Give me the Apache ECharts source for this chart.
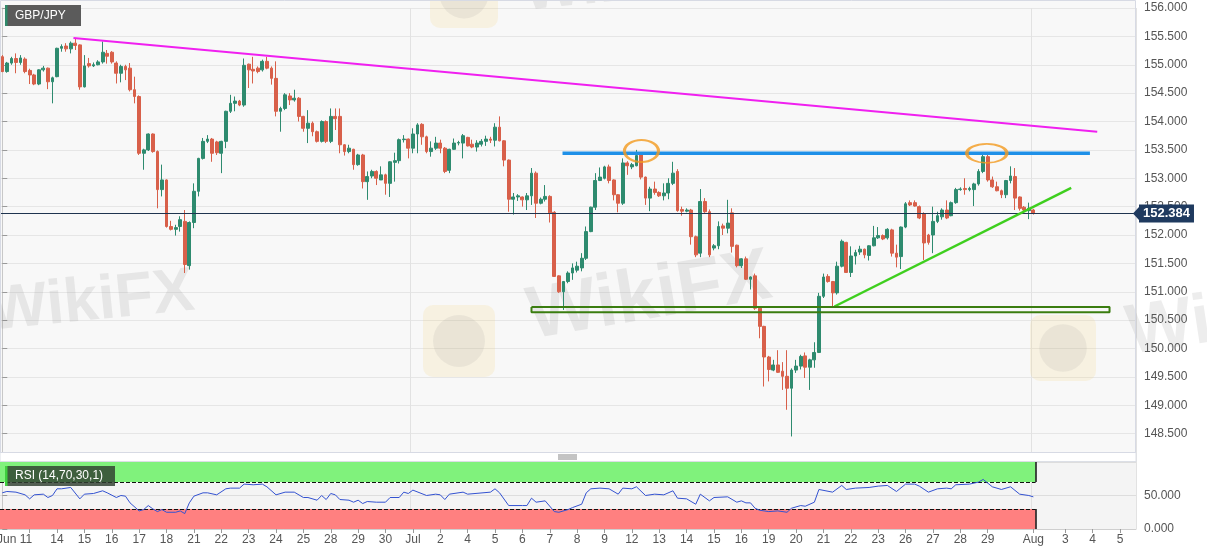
<!DOCTYPE html>
<html>
<head>
<meta charset="utf-8">
<title>GBP/JPY</title>
<script src="https://cdn.jsdelivr.net/npm/echarts@6/dist/echarts.min.js"></script>
<style>
  html, body { margin: 0; padding: 0; background: #fff; }
  #chart { width: 1207px; height: 555px; }
</style>
</head>
<body>
<div id="chart"></div>
<script>
// day labels on the time axis and how many 4h slots each day takes
var dayLabels = ['', 'Jun 11', '14', '15', '16', '17', '18', '21', '22', '23', '24', '25',
  '28', '29', '30', 'Jul', '2', '4', '5', '6', '7', '8', '9', '12', '13', '14', '15', '16',
  '19', '20', '21', '22', '23', '26', '27', '28', '29', '', 'Aug', '3', '4', '5'];
var daySlots = [6, 6, 6, 6, 6, 6, 6, 6, 6, 6, 6, 6, 6, 6, 6, 6, 6, 6, 6, 6, 6, 6, 6, 6, 6, 6,
  6, 6, 6, 6, 6, 6, 6, 6, 6, 6, 6, 4, 7, 6, 6, 4];

// 4h candles: [open, close, low, high]
var candles = [
  [155.14,154.88,154.87,155.17],[154.88,155.03,154.86,155.05],[155.03,155.11,155.00,155.14],[155.11,155.04,154.85,155.20],[155.04,155.12,155.00,155.17],[155.10,154.88,154.85,155.13],
  [154.90,154.82,154.66,154.93],[154.82,154.66,154.64,154.84],[154.66,154.91,154.64,154.92],[154.91,154.94,154.88,154.98],[154.94,154.70,154.57,154.95],[154.70,154.77,154.32,154.79],
  [154.79,155.29,154.78,155.30],[155.29,155.32,155.23,155.36],[155.33,155.28,155.23,155.38],[155.28,155.38,155.20,155.41],[155.38,155.34,155.26,155.47],[155.35,154.61,154.56,155.36],
  [154.61,154.98,154.60,155.17],[155.02,154.98,154.95,155.12],[154.98,155.00,154.96,155.04],[155.00,155.05,154.99,155.08],[155.05,155.22,155.02,155.41],[155.20,155.15,155.02,155.26],
  [155.22,155.05,155.02,155.24],[155.03,154.85,154.67,155.06],[154.85,154.97,154.69,155.00],[154.97,154.91,154.73,155.00],[154.94,154.56,154.53,155.03],[154.56,154.44,154.32,154.79],
  [154.44,153.44,153.41,154.46],[153.44,153.50,153.15,153.52],[153.50,153.78,153.48,153.79],[153.78,153.47,153.45,153.79],[153.47,152.80,152.47,153.49],[152.80,152.97,152.68,153.24],
  [152.97,152.15,152.13,152.98],[152.15,152.10,152.08,152.25],[152.10,152.13,151.99,152.18],[152.15,152.27,152.06,152.33],[152.24,151.48,151.33,152.44],[151.46,152.22,151.39,152.24],
  [152.22,152.77,152.12,152.91],[152.77,153.35,152.68,153.36],[153.35,153.65,153.33,153.71],[153.65,153.69,153.62,153.76],[153.69,153.44,153.29,153.71],[153.64,153.45,153.41,153.66],
  [153.44,153.65,153.09,153.66],[153.65,154.18,153.53,154.19],[154.18,154.32,154.15,154.47],[154.32,154.36,154.18,154.44],[154.36,154.29,154.27,154.38],[154.29,154.99,154.26,155.11],
  [155.01,154.91,154.59,155.02],[154.92,154.89,154.67,155.14],[154.94,154.88,154.85,154.97],[154.91,155.06,154.88,155.09],[155.06,154.94,154.92,155.14],[154.94,154.76,154.65,154.97],
  [154.76,154.18,154.09,155.06],[154.18,154.23,153.82,154.26],[154.23,154.47,154.20,154.50],[154.45,154.38,154.29,154.50],[154.38,154.41,154.35,154.56],[154.41,154.09,154.00,154.43],
  [154.09,153.88,153.82,154.10],[153.88,153.97,153.62,154.20],[153.97,153.82,153.74,154.00],[153.82,153.65,153.63,153.84],[153.65,154.00,153.63,154.02],[154.00,153.65,153.62,154.02],
  [153.65,154.09,153.62,154.23],[154.09,154.05,153.85,154.23],[154.09,153.59,153.44,154.23],[153.59,153.47,153.40,153.60],[153.47,153.53,153.44,153.59],[153.51,153.24,153.15,153.52],
  [153.24,153.41,153.22,153.43],[153.41,152.94,152.82,153.43],[152.94,153.03,152.62,153.12],[153.04,153.12,153.00,153.15],[153.12,153.00,152.88,153.14],[152.97,153.06,152.97,153.21],
  [153.06,152.91,152.71,153.08],[152.91,153.29,152.67,153.30],[153.28,153.31,152.94,153.45],[153.31,153.68,153.26,153.70],[153.68,153.69,153.63,153.76],[153.69,153.53,153.35,153.70],
  [153.53,153.78,153.44,153.88],[153.78,153.94,153.44,153.97],[153.95,153.73,153.59,153.97],[153.73,153.47,153.44,153.75],[153.47,153.53,153.38,153.65],[153.53,153.62,153.50,153.73],
  [153.62,153.53,153.44,153.68],[153.53,153.12,153.09,153.55],[153.14,153.51,153.09,153.52],[153.51,153.62,153.50,153.70],[153.62,153.63,153.58,153.66],[153.62,153.75,153.35,153.78],
  [153.72,153.57,153.56,153.73],[153.60,153.55,153.53,153.68],[153.55,153.62,153.47,153.67],[153.60,153.65,153.56,153.69],[153.65,153.69,153.57,153.75],[153.69,153.67,153.62,153.73],
  [153.67,153.90,153.56,153.97],[153.90,153.66,153.65,154.09],[153.66,153.32,153.21,153.67],[153.32,152.63,152.41,153.33],[152.63,152.67,152.36,152.74],[152.67,152.69,152.60,152.72],
  [152.67,152.62,152.50,152.68],[152.62,152.69,152.44,152.74],[152.69,153.09,152.53,153.18],[153.09,152.56,152.30,153.12],[152.56,152.63,152.54,152.66],[152.63,152.68,152.59,152.88],
  [152.68,152.39,152.22,152.70],[152.40,151.27,151.26,152.42],[151.28,151.00,150.98,151.29],[151.00,151.18,150.68,151.19],[151.18,151.33,151.15,151.36],[151.33,151.42,151.21,151.50],
  [151.38,151.45,151.34,151.53],[151.42,151.59,151.36,151.68],[151.59,152.06,151.56,152.15],[152.06,152.49,152.05,152.50],[152.49,152.96,152.44,153.09],[152.96,153.02,152.95,153.19],
  [153.00,153.20,152.98,153.22],[153.20,152.96,152.91,153.24],[152.97,152.71,152.61,152.98],[152.71,152.56,152.40,152.72],[152.56,153.27,152.53,153.35],[153.27,153.22,153.06,153.30],
  [153.20,153.24,153.16,153.27],[153.22,153.40,153.21,153.50],[153.41,153.02,152.98,153.44],[153.02,152.65,152.53,153.03],[152.65,152.81,152.42,152.85],[152.81,152.75,152.71,152.94],
  [152.75,152.69,152.67,152.77],[152.69,152.74,152.61,152.91],[152.74,152.91,152.63,153.00],[152.91,153.09,152.88,153.29],[153.12,152.43,152.41,153.16],[152.45,152.42,152.34,152.50],
  [152.42,152.44,152.40,152.47],[152.44,151.97,151.83,152.46],[151.97,151.65,151.61,151.99],[151.68,152.59,151.61,152.81],[152.59,152.41,152.39,152.65],[152.41,151.65,151.61,152.45],
  [151.77,151.81,151.73,151.84],[151.81,152.15,151.75,152.24],[152.16,152.12,152.00,152.20],[152.12,152.21,152.03,152.62],[152.39,151.80,151.69,152.47],[151.82,151.46,151.43,151.83],
  [151.46,151.58,151.42,151.59],[151.58,151.22,151.21,151.62],[151.22,151.26,151.04,151.27],[151.28,150.71,150.68,151.32],[150.71,150.39,150.18,150.72],[150.39,149.85,149.33,150.40],
  [149.85,149.63,149.42,149.87],[149.62,149.71,149.60,149.80],[149.71,149.58,149.57,149.97],[149.60,149.51,149.27,149.76],[149.51,149.30,148.92,149.97],[149.30,149.62,148.45,149.65],
  [149.62,149.69,149.57,149.80],[149.69,149.86,149.63,149.89],[149.87,149.67,149.48,149.93],[149.67,149.80,149.27,149.82],[149.80,149.93,149.66,150.11],[149.93,150.92,149.92,150.98],
  [150.92,151.26,150.89,151.32],[151.27,151.18,151.16,151.31],[151.18,150.98,150.74,151.19],[150.98,151.45,150.95,151.53],[151.45,151.89,151.43,151.92],[151.87,151.34,151.33,151.88],
  [151.34,151.63,151.26,151.80],[151.63,151.69,151.48,151.74],[151.70,151.75,151.65,151.81],[151.75,151.65,151.59,151.76],[151.64,151.81,151.55,151.82],[151.81,151.95,151.80,152.16],
  [151.95,151.99,151.93,152.14],[151.99,151.93,151.91,152.01],[151.95,152.10,151.92,152.12],[152.09,151.68,151.62,152.11],[151.68,151.61,151.43,151.83],[151.62,152.14,151.40,152.15],
  [152.14,152.55,152.12,152.58],[152.57,152.53,152.51,152.61],[152.57,152.51,152.50,152.61],[152.50,152.30,152.28,152.52],[152.37,151.86,151.56,152.40],[152.00,151.87,151.83,152.02],
  [152.00,152.24,151.68,152.50],[152.24,152.34,152.21,152.41],[152.32,152.44,152.27,152.47],[152.44,152.30,152.28,152.61],[152.34,152.57,152.33,152.59],[152.57,152.80,152.55,152.83],
  [152.80,152.81,152.78,152.84],[152.82,152.80,152.71,153.00],[152.80,152.82,152.77,152.85],[152.80,152.90,152.51,152.92],[152.90,153.12,152.87,153.16],[153.12,153.38,153.09,153.41],
  [153.38,152.97,152.94,153.41],[152.97,152.85,152.83,153.03],[152.85,152.78,152.77,152.94],[152.78,152.71,152.65,152.80],[152.71,152.96,152.65,152.97],[152.96,153.04,152.91,153.21],
  [153.03,152.65,152.44,153.18],[152.67,152.47,152.43,152.68],[152.49,152.44,152.41,152.51],[152.43,152.47,152.28,152.57],
  [152.44,152.38,152.36,152.46]
];
var lastPrice = 152.384;

// RSI (14): slot index and value
var rsiSlot = [0,1,3,5,6,7,9,10,11,12, 13,15,17,18,20,22,23,25,26,27, 28,30,31,32,33,34,35,36,38,39,
  40,41,42,44,45,47,49,50,52,53, 55,57,58,60,62,64,66,67,69,70, 71,72,73,74,76,77,78,79,80,82,
  84,85,87,88,89,90,93,95,96,97, 98,101,102,107,108,109,111,114,115,116, 117,119,121,122,124,125,127,128,129,131,
  133,135,136,138,139,141,143,145,147,148, 150,152,153,155,156,159,161,162,163,164, 165,166,168,170,172,173,175,176,178,179,
  182,184,185,187,190,192,194,196,198,200, 201,203,205,207,208,209,212,214,215,217, 219,221,223,225,226];
var rsiValue = [54,56,55,51,45,51,52,47,50,60, 60,62,45,52,53,57,54,47,50,49, 39,27,29,35,30,26,29,25,25,27,
  23,39,49,54,54,51,60,61,61,67, 66,67,63,51,55,55,47,47,43,50, 44,53,51,44,43,40,43,38,41,40,
  40,47,47,55,53,58,50,52,51,44, 52,55,52,55,60,54,35,35,35,46, 40,42,26,25,29,32,37,54,60,61,
  60,52,61,60,63,50,52,51,57,46, 45,37,52,42,47,48,40,42,39,39, 31,28,26,27,25,31,35,34,40,59,
  55,65,59,61,62,64,65,56,67,67, 64,55,60,61,60,66,67,70,74,63, 59,63,52,50,48];
var rsiLevels = [30, 70];

// drawn annotations, in [slot, price]
var resistanceLine = [[15.6, 155.47], [240, 153.82]];
var topLine = [[122.8, 153.44], [238.4, 153.44]];
var supportLine = [[182.4, 150.74], [234.3, 152.83]];
var supportZone = [[116, 150.73], [242.7, 150.64]];
var doubleTops = [[140.1, 153.48], [215.8, 153.44]];
var arrowMarks = [[99.8, 153.55, '↑'], [102.9, 153.66, '↓']];

// ---- build axis slots ----
var slotLabels = [];
dayLabels.forEach(function (lab, d) {
  for (var k = 0; k < daySlots[d]; k++) slotLabels.push(k === 0 ? lab : '');
});
var nSlots = slotLabels.length;
var lastSlot = candles.length - 1;
var slotData = slotLabels.map(function (lab, i) {
  if (lab === 'Jun 11') return { value: 's' + i, textStyle: { padding: [0, 30, 0, 0] } };
  return 's' + i;
});
function hasLabel(i) { return slotLabels[i] !== ''; }
function isMonth(i) { return slotLabels[i] === 'Jul' || slotLabels[i] === 'Aug'; }

var upColor = '#2e8b6f';
var downColor = '#d8604a';
var font = 'Liberation Sans, Arial, sans-serif';

var zoneBox = [
  [supportZone[0][0], supportZone[0][1]], [supportZone[1][0], supportZone[0][1]],
  [supportZone[1][0], supportZone[1][1]], [supportZone[0][0], supportZone[1][1]],
  [supportZone[0][0], supportZone[0][1]]
];
var rsiData = rsiSlot.map(function (s, i) { return [s, rsiValue[i]]; });
var bandEnd = lastSlot + 0.5;

var chart = echarts.init(document.getElementById('chart'));

function watermark(x, y, size, rot) {
  return { type: 'text', x: x, y: y, rotation: rot, z: 1, silent: true,
    style: { text: 'WikiFX', fill: 'rgba(110,110,110,0.12)', font: 'bold ' + size + 'px ' + font } };
}
function logo(x, y, s) {
  return [
    { type: 'rect', z: 1, silent: true, shape: { x: x, y: y, width: s, height: s, r: 10 }, style: { fill: 'rgba(245,212,120,0.18)' } },
    { type: 'circle', z: 1, silent: true, shape: { cx: x + s / 2, cy: y + s / 2, r: s * 0.36 }, style: { fill: 'rgba(140,140,140,0.12)' } }
  ];
}
function box(x, y, w, h, fill) {
  return { type: 'rect', z: 60, zlevel: 1, silent: true, shape: { x: x, y: y, width: w, height: h }, style: { fill: fill } };
}
function label(x, y, text) {
  return { type: 'text', z: 61, zlevel: 1, silent: true, x: x, y: y,
    style: { text: text, fill: '#ffffff', font: '12px ' + font, verticalAlign: 'middle' } };
}
function hline(x1, x2, y) {
  return { type: 'line', z: 61, zlevel: 1, silent: true, shape: { x1: x1, y1: y, x2: x2, y2: y },
    style: { stroke: '#888', lineWidth: 1 } };
}

var graphics = [
  { type: 'rect', z: 0, silent: true, shape: { x: 0, y: 0, width: 1136, height: 8 }, style: { fill: '#f8f8f8' } },
  watermark(-14, 282, 62, 0.1),
  watermark(522, 282, 74, 0.17),
  watermark(1122, 300, 70, 0.15),
  watermark(520, -38, 62, 0.1)
].concat(logo(423, 305, 72), logo(1030, 315, 66), logo(430, -40, 68), [
  { type: 'rect', z: 55, zlevel: 1, silent: true, shape: { x: 0, y: 452.5, width: 1136, height: 9 },
    style: { fill: '#ffffff', stroke: '#dcdfe6', lineWidth: 1 } },
  hline(558, 577, 455), hline(558, 577, 457), hline(558, 577, 459),
  { type: 'rect', z: 56, zlevel: 1, silent: true, shape: { x: 0.5, y: 0.5, width: 1135, height: 452 },
    style: { fill: 'none', stroke: '#d7dae4', lineWidth: 1 } },
  { type: 'polygon', z: 56, zlevel: 1, silent: true, shape: { points: [[1133, 213.5], [1139, 207], [1139, 220]] },
    style: { fill: '#1f3a5f' } },
  box(5, 5, 76, 21, '#5b5b5b'), box(5, 5, 2.5, 21, '#2f8a6a'), label(15, 15.5, 'GBP/JPY'),
  box(5, 466, 110, 20, 'rgba(48,62,48,0.82)'), box(5, 466, 2.5, 20, '#3fcf3f'), label(15, 476, 'RSI (14,70,30,1)')
]);

var option = {
  backgroundColor: '#ffffff',
  animation: false,
  textStyle: { fontFamily: font },
  grid: [
    { left: 0, right: 71, top: 8, height: 454, show: true, backgroundColor: '#f8f8f8', borderWidth: 0, outerBoundsMode: 'none' },
    { left: 0, right: 71, top: 462, height: 67, show: true, backgroundColor: '#f4f4f4', borderWidth: 0, outerBoundsMode: 'none' }
  ],
  xAxis: [
    { type: 'category', gridIndex: 0, data: slotData, boundaryGap: true,
      axisLine: { show: false }, axisTick: { show: false }, axisLabel: { show: false },
      splitLine: { show: true, interval: isMonth, lineStyle: { color: '#e2e2e2' } } },
    { type: 'category', gridIndex: 1, data: slotData, boundaryGap: true,
      axisLine: { show: true, lineStyle: { color: '#cfcfcf' } },
      axisTick: { show: true, alignWithLabel: true, interval: hasLabel, length: 4, lineStyle: { color: '#999' } },
      axisLabel: { interval: hasLabel, formatter: function (v, i) { return slotLabels[i]; },
        color: '#555', fontSize: 12, margin: 5 },
      splitLine: { show: true, interval: isMonth, lineStyle: { color: '#e2e2e2' } } },
    { type: 'value', gridIndex: 0, min: -0.5, max: nSlots - 0.5, show: false },
    { type: 'value', gridIndex: 1, min: -0.5, max: nSlots - 0.5, show: false }
  ],
  yAxis: [
    { type: 'value', gridIndex: 0, position: 'right', min: 148, max: 156, interval: 0.5,
      axisLine: { show: true, lineStyle: { color: '#c8c8c8' } },
      axisTick: { show: true, length: 5, lineStyle: { color: '#999' } },
      axisLabel: { color: '#555', fontSize: 12, margin: 8,
        formatter: function (v) { return v < 148.25 ? '' : v.toFixed(3); } },
      splitLine: { lineStyle: { color: '#e6e6e6' } } },
    { type: 'value', gridIndex: 1, position: 'right', min: 0, max: 100, interval: 50,
      axisLine: { show: true, lineStyle: { color: '#c8c8c8' } },
      axisTick: { show: true, length: 5, lineStyle: { color: '#999' } },
      axisLabel: { color: '#555', fontSize: 12, margin: 8,
        formatter: function (v) { return v > 99 ? '' : v.toFixed(3); } },
      splitLine: { lineStyle: { color: '#dddddd' } } }
  ],
  series: [
    { name: 'GBP/JPY', type: 'candlestick', xAxisIndex: 0, yAxisIndex: 0, data: candles,
      barWidth: '72%',
      itemStyle: { color: upColor, color0: downColor, borderColor: upColor, borderColor0: downColor, borderWidth: 1 },
      markLine: { silent: true, symbol: ['none', 'none'], animation: false,
        data: [{ yAxis: lastPrice }],
        lineStyle: { color: '#1f344f', width: 1, type: 'solid' },
        label: { show: true, position: 'end', distance: 3, formatter: lastPrice.toFixed(3),
          backgroundColor: '#1f3a5f', color: '#fff', fontWeight: 'bold', fontSize: 13, padding: [3, 4, 2, 4] } } },
    { type: 'line', xAxisIndex: 2, yAxisIndex: 0, data: resistanceLine, symbol: 'none', silent: true,
      lineStyle: { color: '#f020f0', width: 2 }, z: 5 },
    { type: 'line', xAxisIndex: 2, yAxisIndex: 0, data: topLine, symbol: 'none', silent: true,
      lineStyle: { color: '#1e90e8', width: 3.5 }, z: 5 },
    { type: 'line', xAxisIndex: 2, yAxisIndex: 0, data: supportLine, symbol: 'none', silent: true,
      lineStyle: { color: '#3fcf1f', width: 2.5 }, z: 5 },
    { type: 'line', xAxisIndex: 2, yAxisIndex: 0, data: zoneBox, symbol: 'none', silent: true,
      lineStyle: { color: '#3b7d10', width: 2 }, z: 5 },
    { type: 'scatter', xAxisIndex: 2, yAxisIndex: 0, data: doubleTops, silent: true, z: 6,
      symbol: 'circle',
      symbolSize: function (v, p) { return p.dataIndex === 0 ? [34, 22] : [40, 19]; },
      itemStyle: { color: 'rgba(0,0,0,0)', borderColor: '#f39a1e', borderWidth: 2.5 } },
    { type: 'scatter', xAxisIndex: 2, yAxisIndex: 0, data: arrowMarks, silent: true, z: 6,
      symbolSize: 1, itemStyle: { opacity: 0 },
      label: { show: true, position: 'inside', formatter: function (p) { return p.value[2]; },
        color: '#000', fontSize: 12, fontWeight: 'bold' } },
    { name: 'RSI', type: 'line', xAxisIndex: 3, yAxisIndex: 1, data: rsiData, symbol: 'none', silent: true,
      lineStyle: { color: '#3352d1', width: 1 }, z: 5,
      markArea: { silent: true, data: [
        [{ coord: [-0.5, rsiLevels[1]], itemStyle: { color: '#80f27c' } }, { coord: [bandEnd, 100] }],
        [{ coord: [-0.5, 0], itemStyle: { color: '#ff8080' } }, { coord: [bandEnd, rsiLevels[0]] }]
      ] },
      markLine: { silent: true, symbol: ['none', 'none'], label: { show: false },
        lineStyle: { color: '#111', width: 1, type: 'dashed' },
        data: [
          [{ coord: [-0.5, rsiLevels[1]] }, { coord: [bandEnd, rsiLevels[1]] }],
          [{ coord: [-0.5, rsiLevels[0]] }, { coord: [bandEnd, rsiLevels[0]] }],
          [{ coord: [bandEnd, rsiLevels[1]], lineStyle: { type: 'solid', width: 1.5, color: '#111' } }, { coord: [bandEnd, 100] }],
          [{ coord: [bandEnd, 0], lineStyle: { type: 'solid', width: 1.5, color: '#111' } }, { coord: [bandEnd, rsiLevels[0]] }]
        ] } }
  ],
  graphic: graphics
};

chart.setOption(option);
</script>
</body>
</html>
